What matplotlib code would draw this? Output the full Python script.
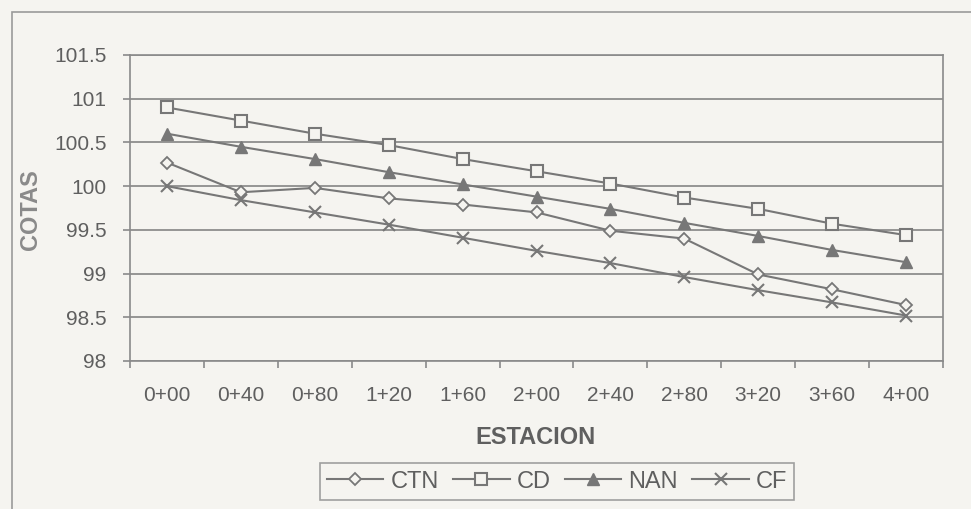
import numpy as np
import matplotlib
matplotlib.use('Agg')
import matplotlib.pyplot as plt
from matplotlib.patches import Rectangle

# station labels and the four elevation series
estaciones = ['0+00', '0+40', '0+80', '1+20', '1+60', '2+00',
              '2+40', '2+80', '3+20', '3+60', '4+00']
ctn = [100.27, 99.93, 99.98, 99.86, 99.79, 99.70, 99.49, 99.40, 98.99, 98.82, 98.64]
cd = [100.90, 100.75, 100.60, 100.47, 100.31, 100.17, 100.03, 99.87, 99.74, 99.57, 99.44]
nan_ = [100.60, 100.45, 100.31, 100.16, 100.02, 99.88, 99.74, 99.58, 99.43, 99.27, 99.13]
cf = [100.00, 99.84, 99.70, 99.56, 99.41, 99.26, 99.12, 98.96, 98.81, 98.67, 98.52]

plt.rcParams['font.family'] = ['Liberation Sans', 'DejaVu Sans']

BG = '#f5f4f0'
LINE = '#777777'
TXT = '#5f5f5f'

fig = plt.figure(figsize=(9.71, 5.09), dpi=100, facecolor=BG)
W, H = 971, 509

# chart area border
fig.patches.append(Rectangle((12 / W, -0.05), 1.1, 1 - 12 / H + 0.05,
                             transform=fig.transFigure, fill=False,
                             edgecolor='#9a9a9a', linewidth=1.2))

ax = fig.add_axes([130 / W, (H - 361) / H, (943 - 130) / W, (361 - 55) / H])
ax.set_facecolor(BG)

x = np.arange(len(estaciones))
ax.plot(x, ctn, color=LINE, lw=1.5, marker='D', ms=6.5, mfc=BG, mec=LINE, mew=1.3, label='CTN')
ax.plot(x, cd, color=LINE, lw=1.5, marker='s', ms=8.5, mfc=BG, mec=LINE, mew=1.5, label='CD')
ax.plot(x, nan_, color=LINE, lw=1.5, marker='^', ms=9, mfc=LINE, mec=LINE, label='NAN')
ax.plot(x, cf, color=LINE, lw=1.5, marker='x', ms=9, mec=LINE, mew=1.5, label='CF')

ax.set_xlim(-0.5, len(estaciones) - 0.5)
ax.set_ylim(98, 101.5)
ax.set_yticks(np.arange(98, 101.6, 0.5))
ax.set_yticklabels(['98', '98.5', '99', '99.5', '100', '100.5', '101', '101.5'])
ax.yaxis.grid(True, color='#858585', lw=1.2)
ax.set_axisbelow(True)

ax.set_xticks(x)
ax.set_xticklabels(estaciones)
ax.set_xticks(np.arange(-0.5, len(estaciones)), minor=True)
ax.tick_params(axis='x', which='major', length=0, pad=18, labelsize=15, labelcolor=TXT)
ax.tick_params(axis='x', which='minor', length=5, color='#8a8a8a', width=1.2)
ax.tick_params(axis='y', length=5, color='#8a8a8a', width=1.2, pad=12,
               labelsize=15, labelcolor=TXT)

for s in ax.spines.values():
    s.set_color('#8a8a8a')
    s.set_linewidth(1.2)

fig.text(535 / W, 1 - 437 / H, 'ESTACION', ha='center', va='center',
         fontsize=17, fontweight='bold', color=TXT)
fig.text(30 / W, 1 - 210 / H, 'COTAS', ha='center', va='center', rotation=90,
         fontsize=17, fontweight='bold', color='#8a8a8a')

leg = fig.legend(loc='center', bbox_to_anchor=(557 / W, 1 - 481.5 / H), ncol=4,
                 fontsize=17, frameon=True, fancybox=False, handlelength=2.4,
                 handletextpad=0.3, columnspacing=0.6, borderpad=0.3,
                 labelcolor=TXT)
leg.get_frame().set_edgecolor('#8a8a8a')
leg.get_frame().set_facecolor(BG)
leg.get_frame().set_linewidth(1.2)

fig.savefig('out.png', dpi=100, facecolor=BG)
